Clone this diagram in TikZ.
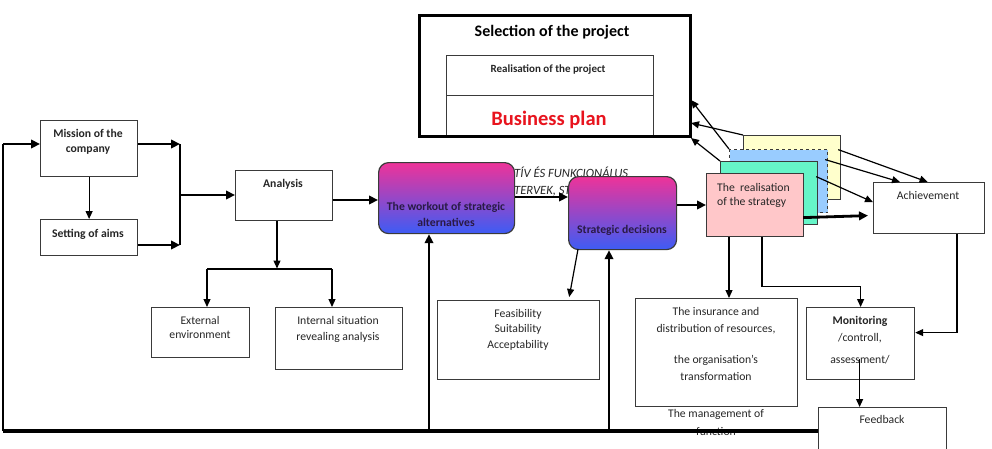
\documentclass[tikz,border=0pt]{standalone}
\usepackage{fontspec}
\setmainfont{Carlito}
\usetikzlibrary{arrows.meta,calc}
\definecolor{bord}{HTML}{3A3A3A}
\definecolor{txtc}{HTML}{262626}
\definecolor{gpink}{HTML}{EE3399}
\definecolor{gblue}{HTML}{3D5CF5}
\definecolor{gtxt}{HTML}{2A1A45}
\definecolor{sy}{HTML}{FFFFCC}
\definecolor{sb}{HTML}{99CCFF}
\definecolor{sg}{HTML}{66F5C8}
\definecolor{sp}{HTML}{FFC7C9}
\definecolor{bpred}{HTML}{E8141E}
\begin{document}
\begin{tikzpicture}[x=1pt,y=-1pt,
  box/.style={draw=bord, line width=1.2pt, inner sep=0pt, anchor=north west, fill=white},
  rbox/.style={draw=bord, line width=1.2pt, inner sep=0pt, anchor=north west, rounded corners=10pt, top color=gpink, bottom color=gblue},
  txt/.style={font=\fontsize{11.7}{14}\selectfont, text=txtc, inner sep=0pt, anchor=base},
  btxt/.style={txt, font=\bfseries\fontsize{11.7}{14}\selectfont},
  ittxt/.style={txt, font=\itshape\fontsize{12.6}{14}\selectfont, text=black!85, anchor=base west},
  thk/.style={line width=2.8pt, -{Triangle[length=9pt,width=8.5pt]}},
  thn/.style={line width=1.2pt, -{Triangle[length=8pt,width=7pt]}},
  ln/.style={line width=1.3pt}]
\useasboundingbox (0,0) rectangle (992,448);

% background italic text (partly hidden)
\node[ittxt] (bgt1) at (514,177) {TÍV ÉS FUNKCIONÁLUS};
\node[ittxt] (bgt2) at (514,194) {TERVEK, ST};

% project box
\node[box, minimum width=207, minimum height=40] (realis) at (446,55) {};
\node[box, minimum width=207, minimum height=41] (bplan) at (446,95) {};
\node[draw=black, line width=3.2pt, inner sep=0pt, anchor=north west, minimum width=271, minimum height=121] (project) at (418,14) {};
\node[btxt, font=\bfseries\fontsize{16}{18}\selectfont, text=black] (tsel) at (552,36) {Selection of the project};
\node[btxt, font=\bfseries\fontsize{11}{13}\selectfont] (treal) at (548,72) {Realisation of the project};
\node[btxt, font=\bfseries\fontsize{20.5}{22}\selectfont, text=bpred] (tbp) at (549,125) {Business plan};

% left boxes
\node[box, minimum width=97, minimum height=56] (mission) at (40,120) {};
\node[btxt] at (88,137) {Mission of the};
\node[btxt] at (88,152) {company};
\node[box, minimum width=97, minimum height=36] (aims) at (40,219) {};
\node[btxt] at (88,237) {Setting of aims};
\node[box, minimum width=97, minimum height=50] (analysis) at (235,170) {};
\node[btxt] at (283,187) {Analysis};
\node[box, minimum width=98, minimum height=50] (external) at (151,307) {};
\node[txt] at (200,324) {External};
\node[txt] at (200,338) {environment};
\node[box, minimum width=127, minimum height=62] (internal) at (275,307) {};
\node[txt] at (338,324) {Internal situation};
\node[txt] at (338,340) {revealing analysis};
\node[box, minimum width=162, minimum height=79] (feas) at (437,300) {};
\node[txt] at (518,317) {Feasibility};
\node[txt] at (518,332) {Suitability};
\node[txt] at (518,348) {Acceptability};

% gradient boxes
\node[rbox, minimum width=136, minimum height=71] (workout) at (378,162) {};
\node[btxt, text=gtxt] at (446,210) {The workout of strategic};
\node[btxt, text=gtxt] at (446,226) {alternatives};
\node[rbox, minimum width=108, minimum height=73] (strat) at (568,176) {};
\node[btxt, text=gtxt] at (622,233) {Strategic decisions};

% stacked boxes
\node[box, fill=sy, minimum width=97, minimum height=64] (yellow) at (743,135) {};
\node[box, fill=sb, dashed, minimum width=98, minimum height=63] (blue) at (729,149) {};
\node[box, fill=sg, minimum width=97, minimum height=63] (green) at (720,161) {};
\node[box, fill=sp, minimum width=97, minimum height=63] (pink) at (706,173) {};
\node[txt, anchor=base west] at (717,191) {The\ \ realisation};
\node[txt, anchor=base west] at (717,205) {of the strategy};

% right boxes
\node[box, minimum width=111, minimum height=51] (achieve) at (873,182) {};
\node[txt] at (928,199) {Achievement};
\node[box, minimum width=162, minimum height=108] (insur) at (635,298) {};
\node[txt] at (716,315) {The insurance and};
\node[txt] at (716,332) {distribution of resources,};
\node[txt] at (716,363) {the organisation's};
\node[txt] at (716,380) {transformation};
\node[txt] at (716,417) {The management of};
\node[txt] at (716,435) {function};
\node[box, minimum width=108, minimum height=72] (monit) at (806,307) {};
\node[btxt] at (860,324) {Monitoring};
\node[txt] at (860,341) {/controll,};
\node[txt] at (860,363) {assessment/};
\node[box, minimum width=128, minimum height=50] (feedb) at (818,407) {};
\node[txt] at (882,423) {Feedback};

% coordinates
\coordinate (lc) at (3,431);
\coordinate (lt) at (3,144);
\coordinate (j1) at (180,144);
\coordinate (j2) at (180,245);
\coordinate (j3) at (180,195);
\coordinate (t1) at (277,269);
\coordinate (te) at (207,269);
\coordinate (ti) at (332,269);
\coordinate (u1) at (429,431);
\coordinate (u2) at (609,431);
\coordinate (p1) at (691,100);
\coordinate (p2) at (691,123);
\coordinate (p3) at (691,138);

% feedback loop
\draw[line width=3.2pt] (feedb.west |- lc) -- (lc);
\draw[line width=1.4pt] (lc) -- (lt);
\draw[thk] (lt) -- (mission.west |- lt);

% left connectors
\draw[thn] (mission.south) -- (aims.north);
\draw[thk] (mission.east |- j1) -- (j1);
\draw[thk] (aims.east |- j2) -- (j2);
\draw[ln] (j1) -- (j2);
\draw[thk] (j3) -- (analysis.west |- j3);
\draw[thk] (analysis.east |- 0,200) -- (workout.west |- 0,200);
\draw[thn] (t1 |- analysis.south) -- ($(t1)+(0,-0.5)$);
\draw[ln] (te) -- (ti);
\draw[thn] (te) -- (te |- external.north);
\draw[thn] (ti) -- (ti |- internal.north);

% middle connectors
\draw[thk] (workout.east |- 0,197) -- (strat.west |- 0,197);
\draw[thn] ($(strat.south west)+(10,-1)$) -- ($(feas.north east)+(-31,-3)$);
\draw[thk] (u1) -- (u1 |- workout.south);
\draw[thk] (u2) -- (u2 |- strat.south);
\draw[thk] (strat.east |- 0,205) -- (pink.west |- 0,205);

% stack to project
\draw[thn] (blue.north west) -- (p1);
\draw[thn] (yellow.north west) -- (p2);
\draw[thn] (green.north west) -- (p3);

% stack to achievement
\draw[thn] ($(yellow.east)+(-3,-18)$) -- ($(achieve.north)+(-1.5,0)$);
\draw[thn] ($(blue.east)+(-3,-21.5)$) -- ($(achieve.north west)+(27,0)$);
\draw[thn] ($(green.east)+(-2,-16.5)$) -- ($(achieve.west)+(0,-6)$);
\draw[thk] ($(pink.east)+(-1,12.5)$) -- ($(achieve.west)+(-5,7.5)$);

% downward from realisation
\draw[thn] ($(pink.south west)+(23,0)$) -- ($(insur.north west)+(94,0)$);
\draw[thn] ($(pink.south west)+(56,0)$) -- ++(0,49) -| (monit.north);
\draw[thn] ($(achieve.south west)+(84,0)$) |- ($(monit.east)+(0,-11)$);
\draw[thn] ($(monit.south)+(-1,-21)$) -- ($(feedb.north)+(-23,0)$);
\end{tikzpicture}
\end{document}
